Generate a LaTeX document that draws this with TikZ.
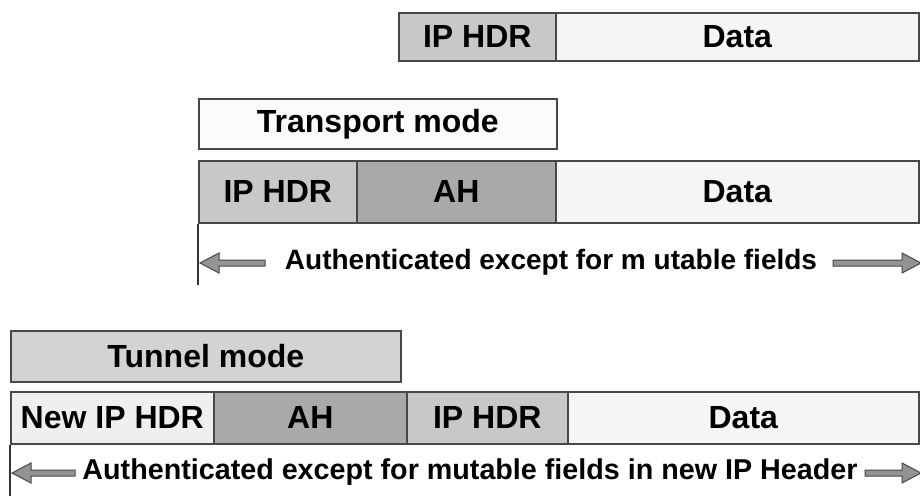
\documentclass[tikz,border=0pt]{standalone}
\usepackage{fontspec}
\setmainfont{Liberation Sans}
\definecolor{hdr}{HTML}{C8C8C8}
\definecolor{ahc}{HTML}{A9A9A9}
\definecolor{datc}{HTML}{F5F5F5}
\definecolor{tunc}{HTML}{D3D3D3}
\definecolor{newc}{HTML}{EFEFEF}
\definecolor{edge}{HTML}{484848}
\tikzset{
  field/.style={draw=edge, line width=1.6pt, inner sep=0pt, anchor=north west,
    font=\fontsize{32}{36}\selectfont\bfseries},
  label/.style={font=\fontsize{28}{32}\selectfont\bfseries, inner sep=0pt},
  fat/.style={draw=edge, fill=gray!85, line width=1pt, line join=miter},
  vline/.style={draw=black!80, line width=1.2pt}
}
% left-pointing fat arrow: tip at #1, tail length #2
\newcommand{\leftfat}[2]{\draw[fat] (#1) -- ++(19,-10) -- ++(0,7) -- ++(#2-19,0) -- ++(0,6) -- ++(19-#2,0) -- ++(0,7) -- cycle;}
\newcommand{\rightfat}[2]{\draw[fat] (#1) -- ++(-19,-10) -- ++(0,7) -- ++(19-#2,0) -- ++(0,6) -- ++(#2-19,0) -- ++(0,7) -- cycle;}
\begin{document}
\begin{tikzpicture}[x=1pt,y=-1pt]
\useasboundingbox[fill=white] (0,0) rectangle (920,496);
% original packet
\node[field, fill=hdr, minimum width=157pt, minimum height=48pt] (ip1) at (398,12) {IP HDR};
\node[field, fill=datc, minimum width=363pt, minimum height=48pt] (d1) at (555,12) {Data};
% transport mode
\node[field, fill=white!97!gray, minimum width=358pt, minimum height=50pt] (tm) at (198,98) {Transport mode};
\node[field, fill=hdr, minimum width=158pt, minimum height=62pt] (ip2) at (198,160) {IP HDR};
\node[field, fill=ahc, minimum width=199pt, minimum height=62pt] (ah2) at (356,160) {AH};
\node[field, fill=datc, minimum width=363pt, minimum height=62pt] (d2) at (555,160) {Data};
\coordinate (v2) at (198,285);
\draw[vline] (ip2.south west) -- (v2);
\node[label] (t2) at (551,262) {Authenticated except for m utable fields};
\coordinate (l2) at (200,263);
\coordinate (r2) at (921,263);
\leftfat{l2}{65}
\rightfat{r2}{88}
% tunnel mode
\node[field, fill=tunc, minimum width=390pt, minimum height=51pt] (tun) at (10,330) {Tunnel mode};
\node[field, fill=newc, minimum width=203pt, minimum height=52pt] (nip) at (10,391) {New IP HDR};
\node[field, fill=ahc, minimum width=193pt, minimum height=52pt] (ah3) at (213,391) {AH};
\node[field, fill=hdr, minimum width=161pt, minimum height=52pt] (ip3) at (406,391) {IP HDR};
\node[field, fill=datc, minimum width=351pt, minimum height=52pt] (d3) at (567,391) {Data};
\coordinate (v3) at (10,496);
\draw[vline] (nip.south west) -- (v3);
\node[label, font=\fontsize{28.7}{32}\selectfont\bfseries] (t3) at (470,472) {Authenticated except for mutable fields in new IP Header};
\coordinate (l3) at (12,473);
\coordinate (r3) at (921,473);
\leftfat{l3}{63}
\rightfat{r3}{56}
\end{tikzpicture}
\end{document}
